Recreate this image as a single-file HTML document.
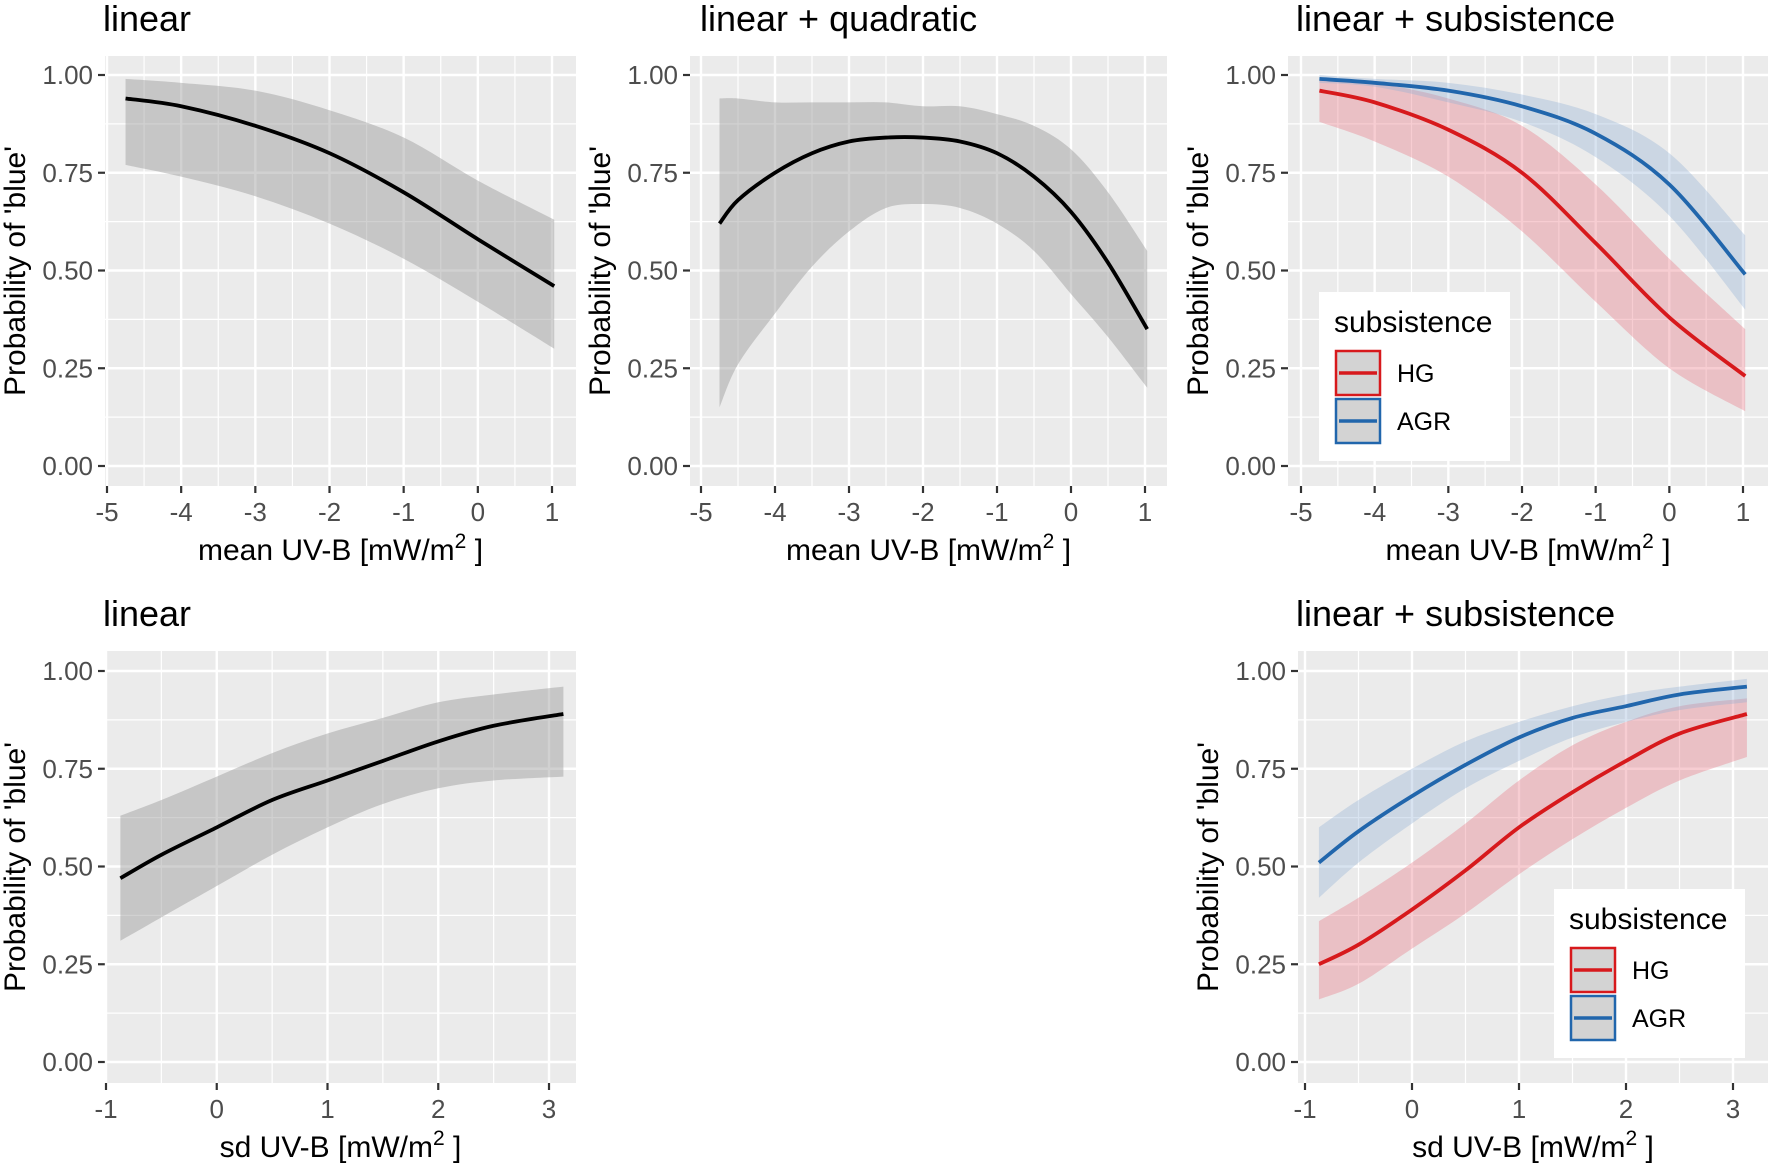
<!DOCTYPE html>
<html><head><meta charset="utf-8"><style>
html,body{margin:0;padding:0;background:#fff}
svg{display:block;font-family:"Liberation Sans",Arial,sans-serif}
</style></head><body>
<svg id="fig" width="1772" height="1168" viewBox="0 0 1772 1168"></svg>
<script>
const xMean=[-4.75,-4,-3,-2,-1,0,1.03];
const p1Fit=[0.94,0.92,0.87,0.80,0.70,0.58,0.46];
const p1Lo=[0.77,0.74,0.69,0.62,0.53,0.42,0.30];
const p1Hi=[0.99,0.98,0.96,0.91,0.84,0.73,0.63];
const xQuad=[-4.75,-4.5,-4,-3.5,-3,-2.5,-2,-1.5,-1,-0.5,0,0.5,1.03];
const p2Fit=[0.62,0.68,0.75,0.80,0.83,0.84,0.84,0.83,0.80,0.74,0.65,0.52,0.35];
const p2Lo=[0.15,0.26,0.39,0.51,0.60,0.66,0.67,0.66,0.62,0.55,0.44,0.33,0.20];
const p2Hi=[0.94,0.94,0.93,0.93,0.93,0.93,0.92,0.92,0.90,0.87,0.81,0.70,0.55];
const p3HgFit=[0.96,0.93,0.86,0.75,0.57,0.38,0.23];
const p3HgLo=[0.88,0.83,0.74,0.60,0.42,0.25,0.14];
const p3HgHi=[0.99,0.98,0.94,0.87,0.72,0.53,0.35];
const p3AgrFit=[0.99,0.98,0.96,0.92,0.85,0.72,0.49];
const p3AgrLo=[0.98,0.97,0.93,0.88,0.79,0.64,0.40];
const p3AgrHi=[1.00,0.99,0.98,0.95,0.90,0.80,0.59];
const xSd=[-0.87,-0.5,0,0.5,1,1.5,2,2.5,3.13];
const p4Fit=[0.47,0.53,0.60,0.67,0.72,0.77,0.82,0.86,0.89];
const p4Lo=[0.31,0.37,0.45,0.53,0.60,0.66,0.70,0.72,0.73];
const p4Hi=[0.63,0.67,0.73,0.79,0.84,0.88,0.92,0.94,0.96];
const p5HgFit=[0.25,0.30,0.39,0.49,0.60,0.69,0.77,0.84,0.89];
const p5HgLo=[0.16,0.20,0.29,0.38,0.48,0.57,0.65,0.72,0.78];
const p5HgHi=[0.36,0.42,0.51,0.61,0.72,0.81,0.87,0.91,0.93];
const p5AgrFit=[0.51,0.59,0.68,0.76,0.83,0.88,0.91,0.94,0.96];
const p5AgrLo=[0.42,0.51,0.61,0.70,0.77,0.83,0.87,0.90,0.92];
const p5AgrHi=[0.60,0.67,0.75,0.82,0.87,0.91,0.94,0.96,0.98];
const yTicks=[0,0.25,0.5,0.75,1];
const yTickLabels=["0.00","0.25","0.50","0.75","1.00"];
const xMeanTicks=[-5,-4,-3,-2,-1,0,1];
const xSdTicks=[-1,0,1,2,3];

const NS="http://www.w3.org/2000/svg";
const svg=document.getElementById('fig');
function mk(tag,attrs,parent,text){const e=document.createElementNS(NS,tag);for(const k in attrs)e.setAttribute(k,attrs[k]);if(text!==undefined)e.textContent=text;(parent||svg).appendChild(e);return e;}
function smooth(pts,start){
  let d=(start?'M':'L')+pts[0][0]+','+pts[0][1];
  for(let i=0;i<pts.length-1;i++){
    const p0=pts[Math.max(i-1,0)],p1=pts[i],p2=pts[i+1],p3=pts[Math.min(i+2,pts.length-1)];
    const c1=[p1[0]+(p2[0]-p0[0])/6,p1[1]+(p2[1]-p0[1])/6];
    const c2=[p2[0]-(p3[0]-p1[0])/6,p2[1]-(p3[1]-p1[1])/6];
    d+='C'+c1[0]+','+c1[1]+' '+c2[0]+','+c2[1]+' '+p2[0]+','+p2[1];
  }
  return d;
}
function panel(o){
  const g=mk('g',{});
  
  
  const sx=v=>o.x0+(v-o.xa)/(o.xb-o.xa)*(o.x1p-o.x0);
  const sy=v=>o.y0+(1-v)*(o.y1p-o.y0);
  const bg=mk('rect',{x:o.L,y:o.T,width:o.R-o.L,height:o.B-o.T,fill:'#ebebeb'},g);
  
  
  for(let i=0;i<o.xt.length;i++){const px=sx(o.xt[i]+0.5);if(px>o.L&&px<o.R)mk('line',{x1:px,x2:px,y1:o.T,y2:o.B,stroke:'#fff','stroke-width':1.2},g);}
  const v0=sx(o.xt[0]-0.5);if(v0>o.L)mk('line',{x1:v0,x2:v0,y1:o.T,y2:o.B,stroke:'#fff','stroke-width':1.2},g);
  for(let i=0;i<yTicks.length-1;i++){const py=sy(yTicks[i]+0.125);mk('line',{x1:o.L,x2:o.R,y1:py,y2:py,stroke:'#fff','stroke-width':1.2},g);}
  yTicks.forEach((v,i)=>{const py=sy(v);mk('line',{x1:o.L,x2:o.R,y1:py,y2:py,stroke:'#fff','stroke-width':2.4},g);
    mk('line',{x1:o.L-7,x2:o.L,y1:py,y2:py,stroke:'#333','stroke-width':2.2},g);
    const t=mk('text',{x:o.L-12,y:py+9,'text-anchor':'end','font-size':26,fill:'#4d4d4d'},g,yTickLabels[i]);
    });
  o.xt.forEach(v=>{const px=sx(v);mk('line',{x1:px,x2:px,y1:o.T,y2:o.B,stroke:'#fff','stroke-width':2.4},g);
    mk('line',{x1:px,x2:px,y1:o.B,y2:o.B+7,stroke:'#333','stroke-width':2.2},g);
    const t=mk('text',{x:px,y:o.B+35,'text-anchor':'middle','font-size':26,fill:'#4d4d4d'},g,String(v));
    });
  o.series.forEach(s=>{
    const up=s.x.map((v,i)=>[sx(v),sy(s.hi[i])]);
    const dn=s.x.map((v,i)=>[sx(v),sy(s.lo[i])]).reverse();
    const b=mk('path',{d:smooth(up,true)+smooth(dn,false)+'Z',fill:s.band,'fill-opacity':s.op},g);
    
  });
  o.series.forEach(s=>{
    const l=mk('path',{d:smooth(s.x.map((v,i)=>[sx(v),sy(s.fit[i])]),true),fill:'none',stroke:s.col,'stroke-width':3.8,'stroke-linejoin':'round'},g);
    
  });
  const tt=mk('text',{x:o.tx,y:o.T-25,'font-size':36,fill:'#000'},g,o.title);
  
  const xt=mk('text',{x:(o.L+o.R)/2,y:o.B+74,'text-anchor':'middle','font-size':30,fill:'#000'},g);
  
  xt.innerHTML=o.xlab+' [mW/m<tspan dy="-12" font-size="21">2</tspan><tspan dy="12"> ]</tspan>';
  const yc=(o.T+o.B)/2;
  const yt=mk('text',{x:0,y:0,transform:`translate(${o.L-80},${yc}) rotate(-90)`,'text-anchor':'middle','font-size':30,fill:'#000'},g,"Probability of 'blue'");
  
  if(o.legend){
    const lx=o.legend[0],ly=o.legend[1];
    const lg=mk('g',{},g);
    mk('rect',{x:lx,y:ly,width:191,height:169,fill:'#fff'},lg);
    mk('text',{x:lx+15,y:ly+40,'font-size':30,fill:'#000'},lg,'subsistence');
    [['HG','#d7191c'],['AGR','#2166ac']].forEach((e,i)=>{
      const ky=ly+59+i*48;
      const ent=mk('g',{},lg);
      mk('rect',{x:lx+17,y:ky,width:44,height:44,fill:'#d3d3d3',stroke:e[1],'stroke-width':2.5},ent);
      mk('line',{x1:lx+20,x2:lx+58,y1:ky+22,y2:ky+22,stroke:e[1],'stroke-width':3.6},ent);
      mk('text',{x:lx+78,y:ky+31,'font-size':25,fill:'#000'},ent,e[0]);
    });
  }
}
const gray={band:'#999',op:0.45,col:'#000'};
const red={band:'#e8707e',op:0.35,col:'#d7191c'};
const blue={band:'#8fb0d4',op:0.35,col:'#2166ac'};
const r1={T:56,B:486,y0:75,y1p:466};
const r2={T:651,B:1083,y0:671,y1p:1062};
panel(Object.assign({name:'panel-mean-linear',title:'linear',tx:103,xlab:'mean UV-B',L:105,R:576,x0:107,x1p:552,xa:-5,xb:1,xt:xMeanTicks,
  series:[Object.assign({nm:'fit',x:xMean,fit:p1Fit,lo:p1Lo,hi:p1Hi},gray)]},r1));
panel(Object.assign({name:'panel-mean-quadratic',title:'linear + quadratic',tx:700,xlab:'mean UV-B',L:690,R:1167,x0:701,x1p:1145,xa:-5,xb:1,xt:xMeanTicks,
  series:[Object.assign({nm:'fit',x:xQuad,fit:p2Fit,lo:p2Lo,hi:p2Hi},gray)]},r1));
panel(Object.assign({name:'panel-mean-subsistence',title:'linear + subsistence',tx:1296,xlab:'mean UV-B',L:1288,R:1768,x0:1301,x1p:1743,xa:-5,xb:1,xt:xMeanTicks,legend:[1319,292],
  series:[Object.assign({nm:'hg',x:xMean,fit:p3HgFit,lo:p3HgLo,hi:p3HgHi},red),Object.assign({nm:'agr',x:xMean,fit:p3AgrFit,lo:p3AgrLo,hi:p3AgrHi},blue)]},r1));
panel(Object.assign({name:'panel-sd-linear',title:'linear',tx:103,xlab:'sd UV-B',L:105,R:576,x0:106,x1p:549,xa:-1,xb:3,xt:xSdTicks,
  series:[Object.assign({nm:'fit',x:xSd,fit:p4Fit,lo:p4Lo,hi:p4Hi},gray)]},r2));
panel(Object.assign({name:'panel-sd-subsistence',title:'linear + subsistence',tx:1296,xlab:'sd UV-B',L:1298,R:1768,x0:1305,x1p:1733,xa:-1,xb:3,xt:xSdTicks,legend:[1554,889],
  series:[Object.assign({nm:'hg',x:xSd,fit:p5HgFit,lo:p5HgLo,hi:p5HgHi},red),Object.assign({nm:'agr',x:xSd,fit:p5AgrFit,lo:p5AgrLo,hi:p5AgrHi},blue)]},r2));
</script>
</body></html>
